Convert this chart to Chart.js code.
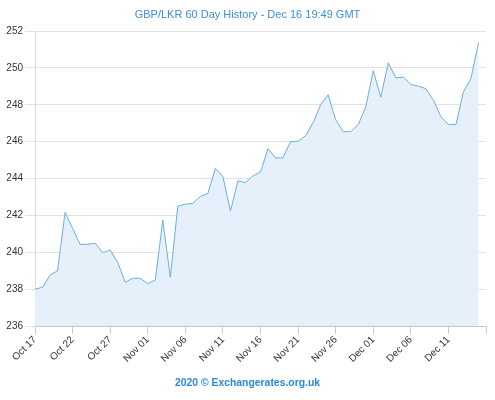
<!DOCTYPE html>
<html>
<head>
<meta charset="utf-8">
<script src="https://cdn.jsdelivr.net/npm/chart.js@4/dist/chart.umd.min.js"></script>
<style>
  html, body { margin: 0; padding: 0; background: #fff; }
  #wrap { position: relative; width: 495px; height: 400px; }
  #c { position: absolute; left: 0; top: 0; }
  .title { position: absolute; left: 0; width: 495px; top: 8px; text-align: center;
           font: 11px "Liberation Sans", Arial, sans-serif; color: #3a8fd6; }
  .foot { position: absolute; left: 0; width: 495px; top: 377px; text-align: center;
          font: bold 10.4px "Liberation Sans", Arial, sans-serif; color: #2a89d6; }
</style>
</head>
<body>
<div id="wrap">
  <canvas id="c" width="495" height="400"></canvas>
  <div class="title">GBP/LKR 60 Day History - Dec 16 19:49 GMT</div>
  <div class="foot">2020 © Exchangerates.org.uk</div>
</div>
<script>
const dates = [
  "Oct 17","Oct 18","Oct 19","Oct 20","Oct 21","Oct 22","Oct 23","Oct 24","Oct 25","Oct 26",
  "Oct 27","Oct 28","Oct 29","Oct 30","Oct 31","Nov 01","Nov 02","Nov 03","Nov 04","Nov 05",
  "Nov 06","Nov 07","Nov 08","Nov 09","Nov 10","Nov 11","Nov 12","Nov 13","Nov 14","Nov 15",
  "Nov 16","Nov 17","Nov 18","Nov 19","Nov 20","Nov 21","Nov 22","Nov 23","Nov 24","Nov 25",
  "Nov 26","Nov 27","Nov 28","Nov 29","Nov 30","Dec 01","Dec 02","Dec 03","Dec 04","Dec 05",
  "Dec 06","Dec 07","Dec 08","Dec 09","Dec 10","Dec 11","Dec 12","Dec 13","Dec 14","Dec 15",
  "Dec 16"
];
const rates = [
  238.00, 238.10, 238.76, 238.99, 242.16, 241.30, 240.43, 240.43, 240.49, 239.98,
  240.12, 239.46, 238.37, 238.59, 238.59, 238.30, 238.49, 241.75, 238.65, 242.50,
  242.61, 242.65, 243.03, 243.19, 244.55, 244.10, 242.23, 243.87, 243.78, 244.14,
  244.35, 245.62, 245.11, 245.13, 246.00, 246.02, 246.32, 247.03, 248.00, 248.54,
  247.19, 246.54, 246.54, 246.92, 247.87, 249.85, 248.41, 250.27, 249.46, 249.50,
  249.10, 249.01, 248.87, 248.25, 247.35, 246.94, 246.92, 248.70, 249.42, 251.37
];
const yMin = 236, yMax = 252, yStep = 2;
const labelEvery = 5;

new Chart(document.getElementById('c'), {
  type: 'line',
  data: {
    labels: dates,
    datasets: [{
      data: rates,
      borderColor: '#6aaee2',
      backgroundColor: '#e6f0fa',
      borderWidth: 1,
      fill: 'start',
      pointRadius: 0,
      tension: 0
    }]
  },
  options: {
    responsive: false,
    animation: false,
    layout: { padding: { top: 31, right: 9, bottom: 0, left: 0 } },
    plugins: { legend: { display: false }, tooltip: { enabled: false }, title: { display: false } },
    scales: {
      x: {
        type: 'category',
        offset: false,
        afterFit: s => { s.height = 74; },
        grid: { drawOnChartArea: false, drawTicks: true, tickLength: 8, color: '#cccccc' },
        border: { color: '#c8c8c8' },
        ticks: {
          autoSkip: false, minRotation: 45, maxRotation: 45, padding: 0,
          color: '#333', font: { family: 'Liberation Sans', size: 10 },
          callback: function (v, i) {
            if (i % labelEvery !== 0) return null;
            if (i === dates.length - 1) return '';
            return dates[i];
          }
        }
      },
      y: {
        min: yMin, max: yMax,
        afterFit: s => { s.width = 35; },
        grid: { color: '#e2e2e2', tickLength: 10 },
        border: { color: '#dddddd' },
        ticks: { stepSize: yStep, padding: 2, color: '#333', font: { family: 'Liberation Sans', size: 10 } }
      }
    }
  }
});
</script>
</body>
</html>
